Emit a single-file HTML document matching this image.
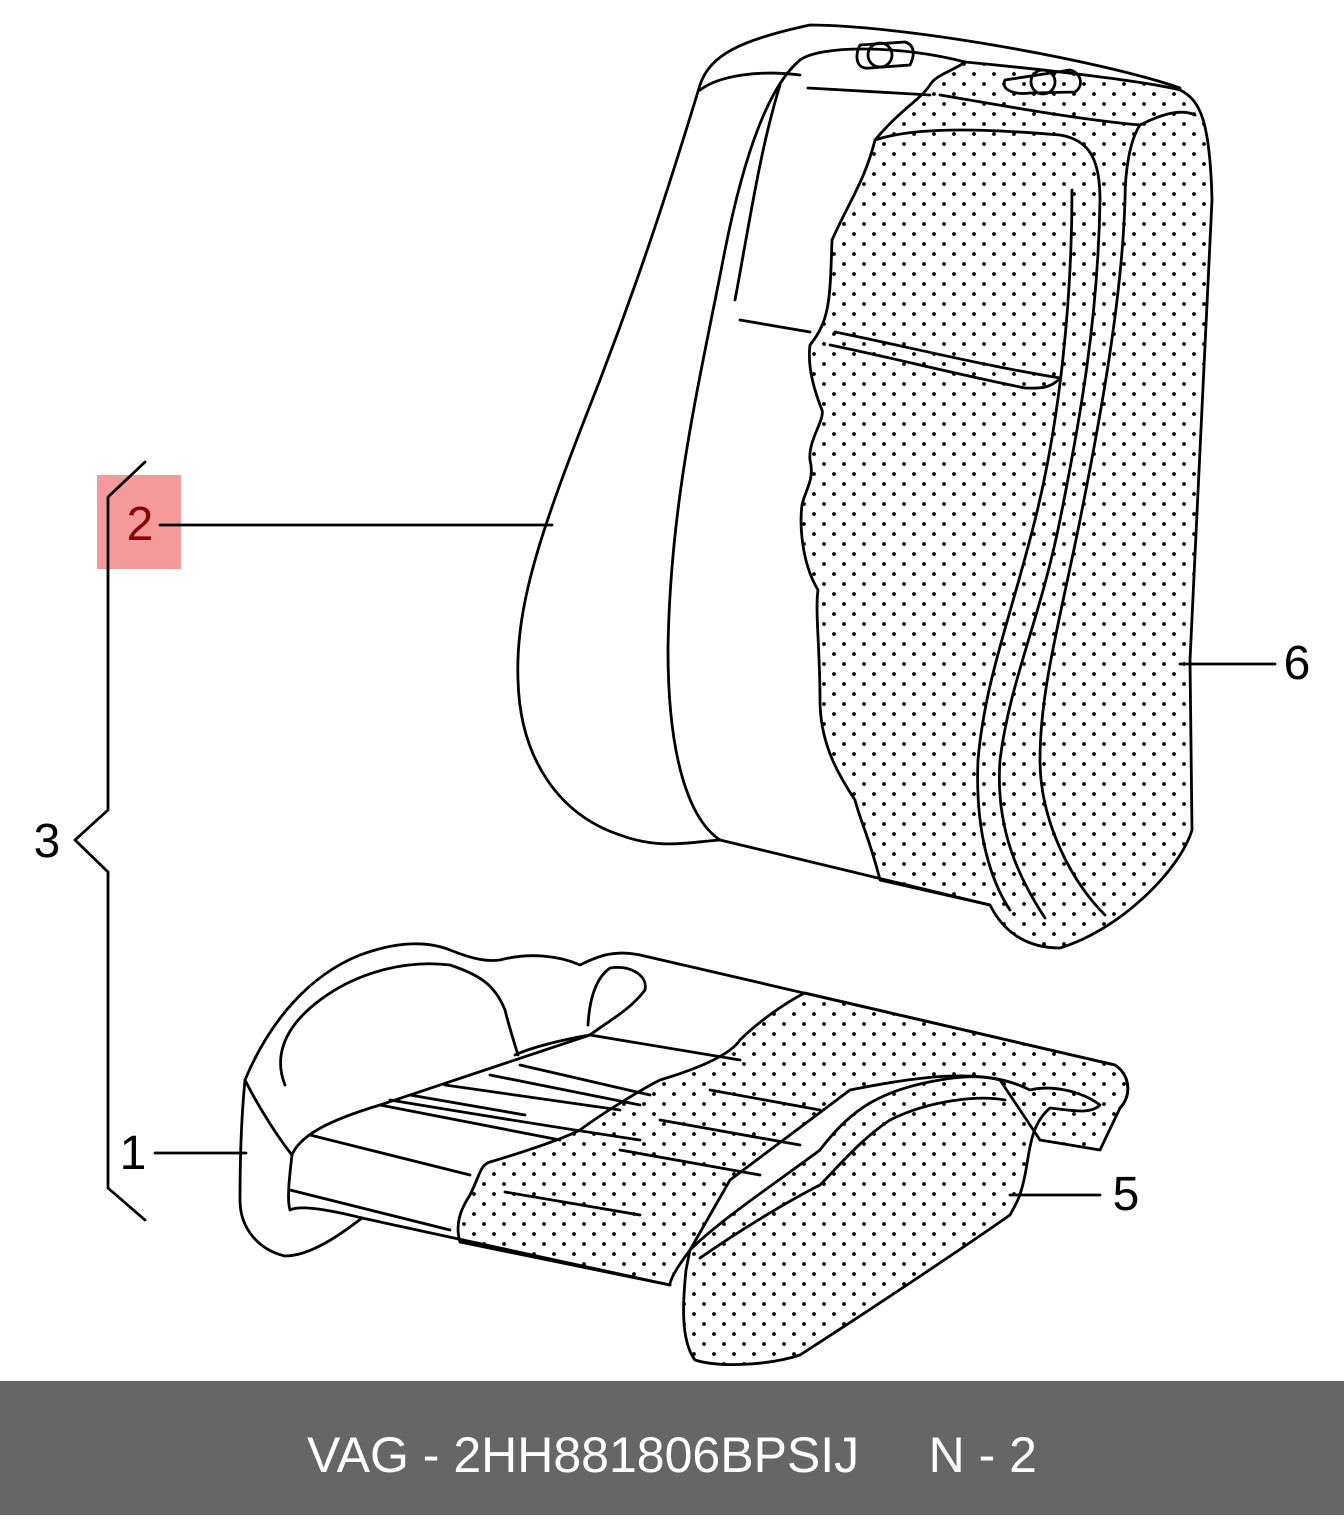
<!DOCTYPE html>
<html><head><meta charset="utf-8"><style>
html,body{margin:0;padding:0;background:#fff;}
body{width:1344px;height:1515px;position:relative;overflow:hidden;font-family:"Liberation Sans",sans-serif;}
svg{position:absolute;left:0;top:0;}
.foot{position:absolute;left:0;top:1381px;width:1344px;height:134px;background:#666666;color:#fff;font-size:50px;line-height:148px;text-align:center;white-space:pre;}
</style></head><body>
<svg width="1344" height="1381" viewBox="0 0 1344 1381">
<defs>
<pattern id="d" width="20" height="20" patternUnits="userSpaceOnUse">
<circle cx="4" cy="4" r="1.9" fill="#000"/><circle cx="14" cy="14" r="1.9" fill="#000"/>
</pattern>
</defs>
<rect x="97" y="475" width="84" height="94" fill="#f59a9a"/>
<g fill="none" stroke="#000" stroke-width="2.8" stroke-linejoin="round" stroke-linecap="round">
<path d="M145 462 L108 497 L108 810 L75 840 L108 872 L108 1188 L145 1220"/>
<path d="M160 525 L552 525 M155 1153 L246 1153 M1010 1195 L1100 1195 M1180 664 L1275 664"/>
<path d="M720 840 C690 842 660 850 620 835 C560 815 520 760 518 680 C515 600 545 520 600 380 C650 250 680 150 700 85 C710 55 740 40 810 25 C900 25 1100 60 1180 88"/>
<path d="M720 840 L990 905"/>
<path d="M720 840 C690 820 668 760 668 650 C670 500 700 380 725 250 C745 150 770 85 800 60 C820 45 900 45 965 62"/>
<path d="M700 90 C720 75 760 70 800 75"/>
<path d="M780 85 C760 150 750 220 735 300"/>
<path d="M740 320 L810 332"/>
<path d="M860 45 C855 55 855 70 870 68 L910 65 C915 55 915 45 905 42 Z"/>
<circle cx="880" cy="55" r="12"/>
<path d="M808 88 L930 95"/>
<path fill="url(#d)" d="M965 62 C1050 70 1150 82 1180 90 C1200 100 1210 120 1212 200 L1200 450 L1190 660 L1192 830 C1180 870 1120 930 1060 948 C1030 948 1005 935 990 905 L880 880 C870 840 860 820 855 800 C835 770 820 740 820 700 C820 650 815 610 818 590 C800 560 800 520 802 505 C805 490 815 480 810 460 C808 440 825 420 822 410 C810 380 808 360 810 345 C830 320 830 300 832 240 C850 200 865 180 875 140 C900 110 920 100 930 85 C935 75 955 70 965 62 Z"/>
<path d="M1005 80 C1000 90 1015 95 1030 93 L1075 92 C1085 85 1080 72 1070 70 Z"/>
<circle cx="1043" cy="82" r="12"/>
<path d="M940 95 C1000 105 1080 120 1140 125 C1160 115 1180 108 1195 115"/>
<path d="M1140 125 C1130 140 1125 170 1125 200 C1122 300 1100 420 1080 520 C1060 620 1040 690 1040 760 C1040 820 1070 880 1105 915"/>
<path d="M875 140 C920 125 1000 130 1060 135 C1090 140 1100 160 1100 200 C1098 320 1080 420 1060 520 C1040 620 1010 680 1000 760 C995 830 1020 880 1045 918"/>
<path d="M1072 190 C1072 300 1060 420 1035 520 C1010 620 985 680 978 760 C975 830 990 880 1010 910"/>
<path d="M835 332 C900 345 980 365 1060 378 C1050 390 1035 388 1025 388 C960 375 880 355 830 345"/>
<path d="M245 1080 C270 1020 310 975 360 955 C400 940 430 942 450 950 C470 958 485 962 500 960 C530 952 560 956 580 965 C600 955 615 950 640 955 L1115 1065 C1130 1075 1132 1095 1120 1108"/>
<path d="M245 1080 C242 1110 240 1150 240 1200 C240 1230 260 1250 285 1256 C310 1256 340 1235 362 1218 L670 1285"/>
<path d="M245 1080 C260 1110 280 1140 292 1155 C289 1180 287 1200 290 1210 C300 1205 330 1210 362 1218"/>
<path d="M292 1155 C300 1135 330 1120 380 1105 C440 1085 500 1065 590 1035 C610 1020 630 1010 645 990 C648 975 630 965 610 968 C600 975 590 990 588 1025"/>
<path d="M285 1085 C275 1060 280 1030 320 1000 C360 970 410 960 450 965 C480 975 495 985 505 1010 C510 1030 515 1045 518 1055"/>
<path d="M515 1055 C530 1048 560 1040 590 1035 L740 1060"/>
<path d="M290 1190 L450 1230"/>
<path d="M310 1135 L470 1175"/>
<path d="M380 1105 L560 1140"/>
<path d="M390 1100 C450 1110 540 1125 640 1140"/>
<path d="M410 1095 L525 1115 M445 1085 L620 1110 M490 1075 L640 1105 M520 1065 L650 1095"/>
<path fill="url(#d)" d="M805 993 L1115 1065 C1130 1075 1132 1095 1120 1108 L1100 1150 L1040 1140 L1000 1080 C960 1070 900 1080 850 1090 L730 1180 L690 1250 C675 1270 670 1280 670 1285 L460 1242 C455 1225 460 1210 470 1195 C480 1175 480 1165 490 1162 C530 1150 560 1140 580 1130 C600 1115 640 1090 660 1080 C700 1068 730 1055 740 1040 C760 1020 790 1000 805 993 Z"/>
<path fill="url(#d)" d="M690 1250 C720 1220 780 1180 820 1150 C850 1110 880 1090 940 1080 C980 1072 1010 1080 1030 1090 C1050 1085 1080 1090 1100 1105 C1090 1115 1070 1110 1050 1108 C1030 1125 1030 1150 1025 1175 C1020 1200 1015 1205 1010 1215 C960 1250 870 1310 800 1355 C770 1365 720 1368 695 1360 C680 1340 683 1300 686 1270 Z"/>
<path d="M700 1258 C740 1230 790 1200 820 1185 C840 1165 860 1140 890 1120 C930 1100 980 1095 1005 1100"/>
<path d="M505 1192 L640 1215 M620 1150 L760 1175 M660 1120 L800 1145 M710 1090 L820 1110"/>
</g>
<g font-family="Liberation Sans,sans-serif" font-size="48">
<text x="140" y="540" text-anchor="middle" fill="#8b0000">2</text>
<text x="47" y="857" text-anchor="middle">3</text>
<text x="133" y="1169" text-anchor="middle">1</text>
<text x="1126" y="1210" text-anchor="middle">5</text>
<text x="1297" y="679" text-anchor="middle">6</text>
</g>
</svg>
<div class="foot">VAG - 2HH881806BPSIJ     N - 2</div>
</body></html>
